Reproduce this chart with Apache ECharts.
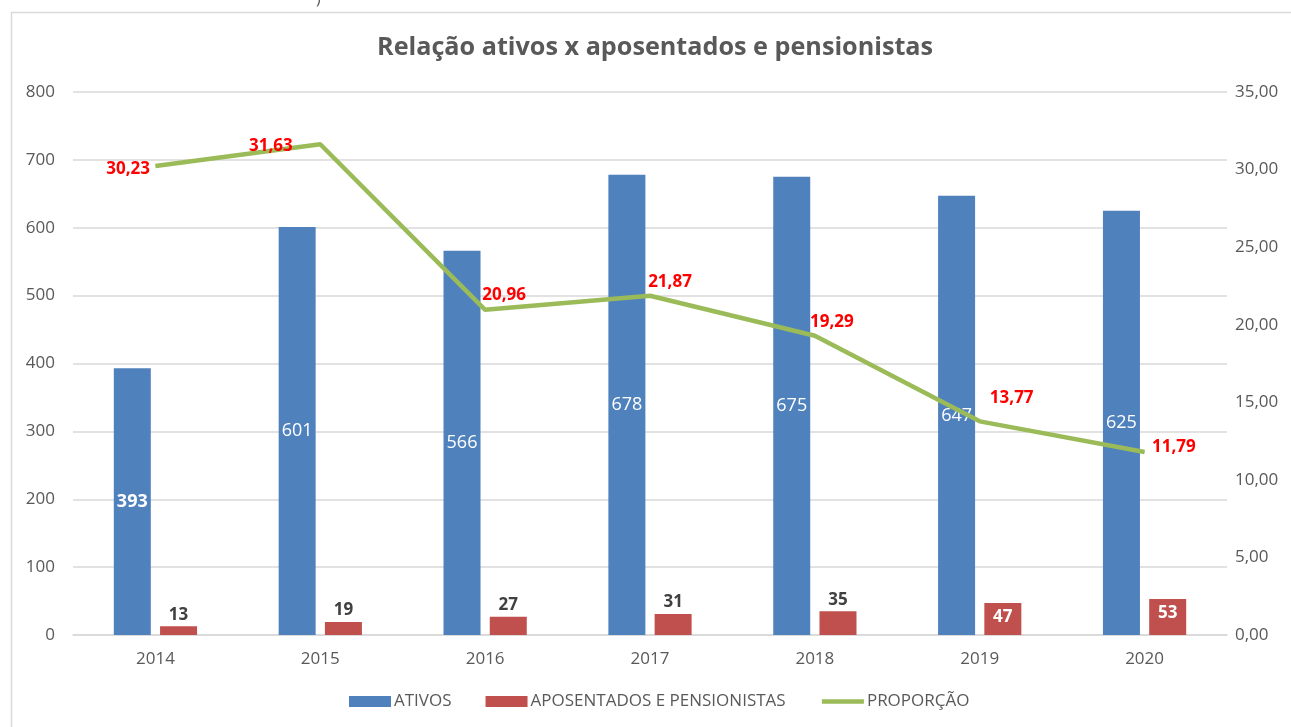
<!DOCTYPE html>
<html>
<head>
<meta charset="utf-8">
<title>Relação ativos x aposentados e pensionistas</title>
<script src="https://cdn.jsdelivr.net/npm/echarts@6/dist/echarts.min.js"></script>
<style>
    html, body { margin: 0; padding: 0; background: #fff; }
    #container { width: 1291px; height: 727px; }
</style>
</head>
<body>
<div id="container"></div>
<script>
// dados do gráfico
var anos = ['2014', '2015', '2016', '2017', '2018', '2019', '2020'];
var ativos = [393, 601, 566, 678, 675, 647, 625];
var aposentados = [13, 19, 27, 31, 35, 47, 53];
var proporcao = [30.23, 31.63, 20.96, 21.87, 19.29, 13.77, 11.79];

var fonte = '"Open Sans", "Noto Sans", sans-serif';

function virgula(v, casas) {
    return v.toFixed(casas).replace('.', ',');
}

// rótulos da linha: posição de cada ponto
var posLinha = [
    { position: 'left', offset: [0, 3] },
    { position: 'left', offset: [-22, 2] },
    { position: 'top', offset: [19, -1] },
    { position: 'top', offset: [20, 0] },
    { position: 'top', offset: [17, 0] },
    { position: 'top', offset: [32, -9] },
    { position: 'right', offset: [2, -5] }
];

var dadosAtivos = ativos.map(function (v, i) {
    return { value: v, label: { fontWeight: i == 0 ? 'bold' : 'normal' } };
});
var dadosApos = aposentados.map(function (v) {
    if (v > 40) {
        return { value: v, label: { position: 'insideTop', color: '#fff', distance: 6 } };
    }
    return { value: v };
});
var dadosProp = proporcao.map(function (v, i) {
    return { value: v, label: posLinha[i] };
});

var myChart = echarts.init(document.getElementById('container'));

option = {
    animation: false,
    textStyle: { fontFamily: fonte },
    title: {
        text: 'Relação ativos x aposentados e pensionistas',
        left: 372,
        top: 30,
        textStyle: { fontFamily: fonte, fontSize: 25.2, fontWeight: 'bold', color: '#595959' }
    },
    graphic: [
        {
            type: 'rect',
            shape: { x: 11.5, y: 12.5, width: 1290, height: 730 },
            style: { fill: 'none', stroke: '#d9d9d9', lineWidth: 1.5 }
        },
        {
            type: 'text',
            left: 316, top: -9,
            style: { text: ')', fontSize: 16, fill: '#595959', fontFamily: fonte }
        }
    ],
    legend: {
        bottom: 12,
        left: 344,
        itemGap: 34,
        itemWidth: 42,
        itemHeight: 11,
        textStyle: { fontFamily: fonte, fontSize: 17, color: '#595959', padding: [0, 0, 0, -2] },
        data: [
            { name: 'ATIVOS', icon: 'rect' },
            { name: 'APOSENTADOS E PENSIONISTAS', icon: 'rect' },
            { name: 'PROPORÇÃO', itemStyle: { opacity: 0 }, lineStyle: { width: 4.5 } }
        ]
    },
    grid: {
        left: 73,
        right: 64,
        top: 92,
        bottom: 92
    },
    xAxis: {
        type: 'category',
        data: anos,
        axisLine: { lineStyle: { color: '#d9d9d9', width: 1.5 } },
        axisTick: { show: false },
        axisLabel: { fontSize: 17, color: '#595959', margin: 16 }
    },
    yAxis: [
        {
            type: 'value',
            min: 0,
            max: 800,
            interval: 100,
            axisLine: { show: false },
            axisTick: { show: false },
            splitLine: { lineStyle: { color: '#d9d9d9', width: 1.5 } },
            axisLabel: { fontSize: 17, color: '#595959', margin: 18 }
        },
        {
            type: 'value',
            min: 0,
            max: 35,
            interval: 5,
            axisLine: { show: false },
            axisTick: { show: false },
            splitLine: { show: false },
            axisLabel: {
                fontSize: 17, color: '#595959', margin: 8,
                formatter: function (v) { return virgula(v, 2); }
            }
        }
    ],
    series: [
        {
            name: 'ATIVOS',
            type: 'bar',
            data: dadosAtivos,
            barWidth: 37,
            barGap: '25%',
            itemStyle: { color: '#4F81BD' },
            label: {
                show: true,
                position: 'inside',
                color: '#fff',
                fontSize: 18,
                fontFamily: fonte
            }
        },
        {
            name: 'APOSENTADOS E PENSIONISTAS',
            type: 'bar',
            data: dadosApos,
            barWidth: 37,
            itemStyle: { color: '#C0504D' },
            label: {
                show: true,
                position: 'top',
                distance: 3,
                color: '#404040',
                fontSize: 17,
                fontWeight: 'bold',
                fontFamily: fonte
            }
        },
        {
            name: 'PROPORÇÃO',
            type: 'line',
            yAxisIndex: 1,
            data: dadosProp,
            symbol: 'circle',
            symbolSize: 1,
            itemStyle: { color: '#9BBB59' },
            lineStyle: { color: '#9BBB59', width: 4.5 },
            z: 5,
            label: {
                show: true,
                color: '#FF0000',
                fontSize: 17,
                fontWeight: 'bold',
                fontFamily: fonte,
                formatter: function (p) { return virgula(p.value, 2); }
            }
        }
    ]
};

myChart.setOption(option);
</script>
</body>
</html>
